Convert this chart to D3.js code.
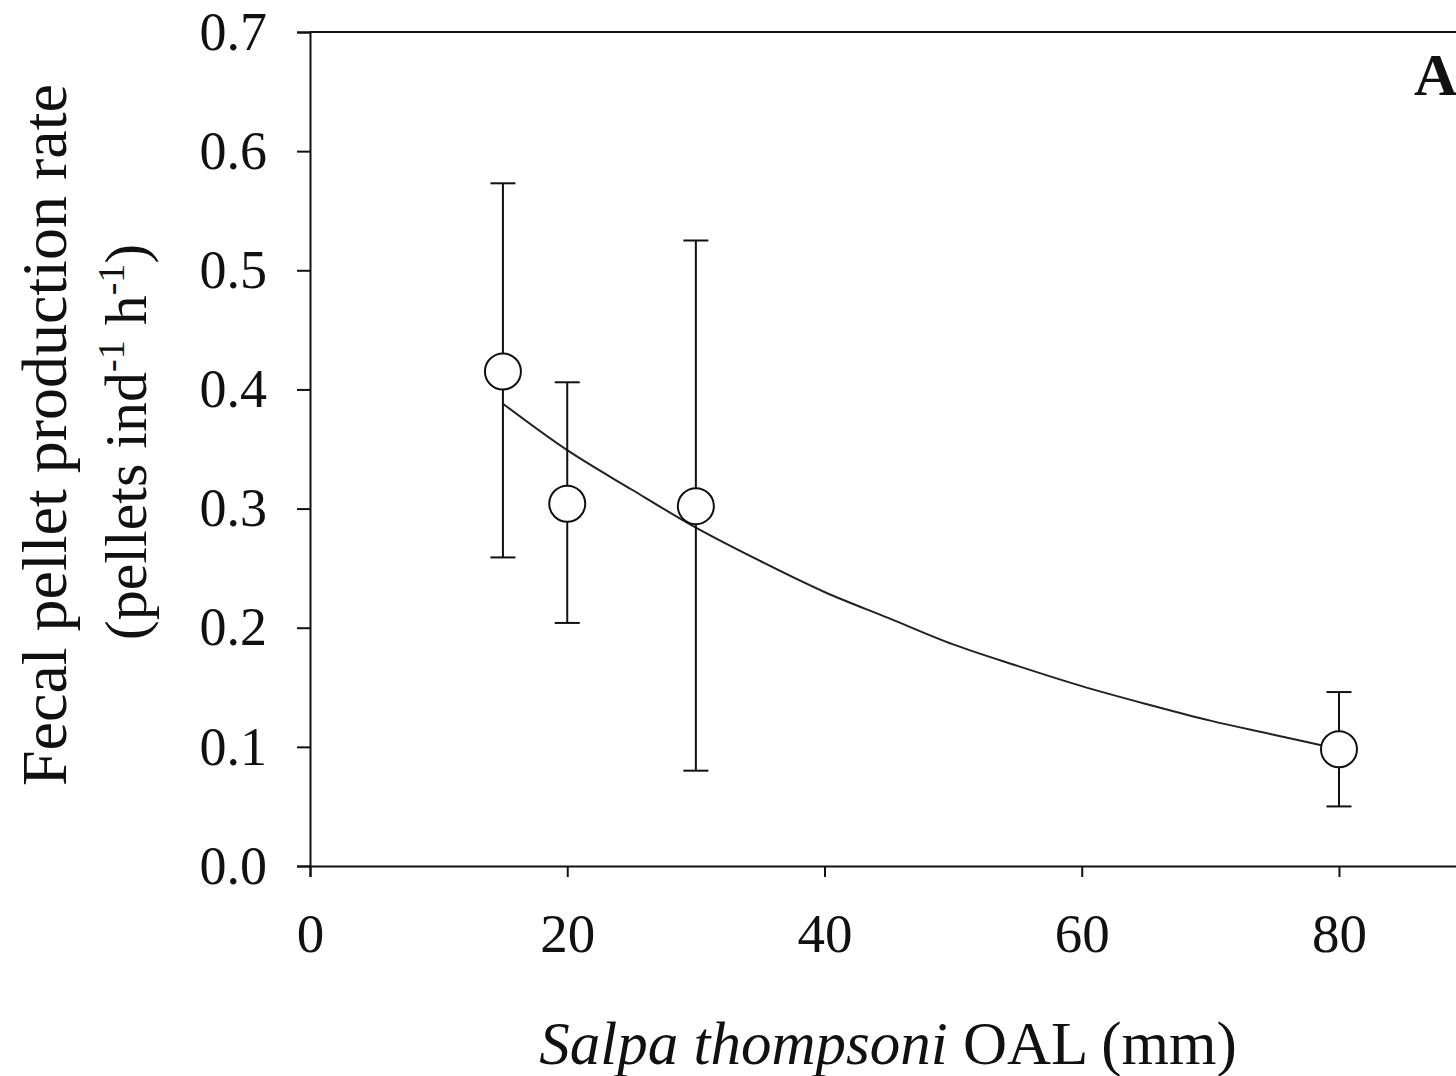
<!DOCTYPE html>
<html>
<head>
<meta charset="utf-8">
<script src="https://d3js.org/d3.v7.min.js"></script>
<style>
  body { margin: 0; background: #fff; overflow: hidden; }
  text { font-family: "Liberation Serif", "Times New Roman", serif; fill: #111; }
</style>
</head>
<body>
<div id="chart"></div>
<script>
// OAL (mm) of each group and its mean fecal pellet production rate
var sizes = [15, 20, 30, 80];
var rates = [0.415, 0.304, 0.302, 0.098];
var errLow = [0.259, 0.204, 0.080, 0.050];
var errHigh = [0.573, 0.406, 0.525, 0.146];

// fitted curve
var fitX = [15, 20, 25, 30, 35, 40, 45, 50, 55, 60, 65, 70, 75, 80];
var fitY = [0.388, 0.349, 0.316, 0.284, 0.256, 0.230, 0.208, 0.186, 0.168, 0.151, 0.136, 0.122, 0.110, 0.098];

var xTicks = [0, 20, 40, 60, 80];
var yTicks = [0, 0.1, 0.2, 0.3, 0.4, 0.5, 0.6, 0.7];

var W = 1456, H = 1076;
var svg = d3.select("#chart").append("svg")
    .attr("width", W)
    .attr("height", H);

var x = d3.scaleLinear().domain([0, 90]).range([310, 1467.6]);
var y = d3.scaleLinear().domain([0, 0.7]).range([866, 32]);

// frame top line
svg.append("line")
    .attr("x1", x(0)).attr("x2", x(90))
    .attr("y1", y(0.7)).attr("y2", y(0.7))
    .attr("stroke", "#111").attr("stroke-width", 2);

// x axis
var xAxis = svg.append("g")
    .attr("transform", "translate(0," + y(0) + ")")
    .call(d3.axisBottom(x).tickValues(xTicks).tickSize(11).tickPadding(36).tickFormat(d3.format("d")));
xAxis.select(".domain").attr("stroke", "#111").attr("stroke-width", 2);
xAxis.selectAll(".tick line").attr("stroke", "#111").attr("stroke-width", 2);
xAxis.selectAll(".tick text")
    .attr("font-family", "Liberation Serif")
    .style("font-size", "55px")
    .attr("fill", "#111");

// y axis
var yAxis = svg.append("g")
    .attr("transform", "translate(" + x(0) + ",0)")
    .call(d3.axisLeft(y).tickValues(yTicks).tickSize(13).tickPadding(30).tickFormat(d3.format(".1f")));
yAxis.select(".domain").attr("stroke", "#111").attr("stroke-width", 2);
yAxis.selectAll(".tick line").attr("stroke", "#111").attr("stroke-width", 2);
yAxis.selectAll(".tick text")
    .attr("font-family", "Liberation Serif")
    .style("font-size", "54px")
    .attr("fill", "#111");

// fitted line
var line = d3.line()
    .x(function (d, i) { return x(fitX[i]); })
    .y(function (d) { return y(d); })
    .curve(d3.curveMonotoneX);
svg.append("path")
    .attr("d", line(fitY))
    .attr("fill", "none")
    .attr("stroke", "#222")
    .attr("stroke-width", 2);

// error bars
var bars = svg.append("g").selectAll("g")
    .data(sizes)
    .enter().append("g");
bars.append("line")
    .attr("x1", d => x(d)).attr("x2", d => x(d))
    .attr("y1", (d, i) => y(errLow[i])).attr("y2", (d, i) => y(errHigh[i]))
    .attr("stroke", "#111").attr("stroke-width", 2);
bars.append("line")
    .attr("x1", d => x(d) - 12.5).attr("x2", d => x(d) + 12.5)
    .attr("y1", (d, i) => y(errHigh[i])).attr("y2", (d, i) => y(errHigh[i]))
    .attr("stroke", "#111").attr("stroke-width", 2);
bars.append("line")
    .attr("x1", d => x(d) - 12.5).attr("x2", d => x(d) + 12.5)
    .attr("y1", (d, i) => y(errLow[i])).attr("y2", (d, i) => y(errLow[i]))
    .attr("stroke", "#111").attr("stroke-width", 2);

// points
svg.append("g").selectAll("circle")
    .data(sizes)
    .enter().append("circle")
    .attr("cx", d => x(d))
    .attr("cy", (d, i) => y(rates[i]))
    .attr("r", 18)
    .attr("fill", "#fff")
    .attr("stroke", "#111")
    .attr("stroke-width", 2);

// x title
var xt = svg.append("text")
    .attr("x", 888)
    .attr("y", 1064)
    .attr("text-anchor", "middle")
    .style("font-size", "61px");
xt.append("tspan").style("font-style", "italic").text("Salpa thompsoni");
xt.append("tspan").text(" OAL (mm)");

// y title, two lines
svg.append("text")
    .attr("transform", "translate(66,435) rotate(-90)")
    .attr("text-anchor", "middle")
    .style("font-size", "64px")
    .text("Fecal pellet production rate");

var yt = svg.append("text")
    .attr("transform", "translate(146,442) rotate(-90)")
    .attr("text-anchor", "middle")
    .style("font-size", "60px");
yt.append("tspan").text("(pellets ind");
yt.append("tspan").attr("dy", -22).style("font-size", "38px").text("-1");
yt.append("tspan").attr("dy", 22).text(" h");
yt.append("tspan").attr("dy", -22).style("font-size", "38px").text("-1");
yt.append("tspan").attr("dy", 22).text(")");

// panel letter
svg.append("text")
    .attr("x", 1414)
    .attr("y", 95)
    .style("font-size", "60px")
    .style("font-weight", "bold")
    .text("A");
</script>
</body>
</html>
